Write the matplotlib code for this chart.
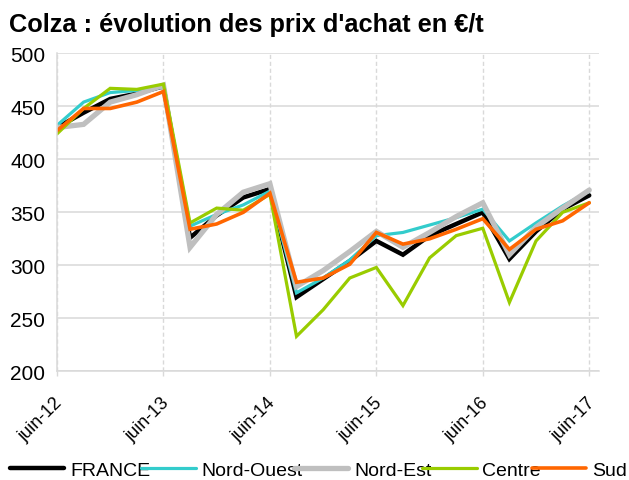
import matplotlib
matplotlib.use('Agg')
import matplotlib.pyplot as plt
import matplotlib.transforms as mtransforms
import numpy as np

plt.rcParams['font.family'] = ['Liberation Sans', 'DejaVu Sans']

# quarterly prices, juin-12 -> juin-17
quarters = ['juin-12', 'sept-12', 'déc-12', 'mars-13', 'juin-13', 'sept-13', 'déc-13', 'mars-14',
            'juin-14', 'sept-14', 'déc-14', 'mars-15', 'juin-15', 'sept-15', 'déc-15', 'mars-16',
            'juin-16', 'sept-16', 'déc-16', 'mars-17', 'juin-17']
france = [430, 444, 457, 462, 469, 326, 347, 364, 372, 270, 287, 304, 323, 310, 328, 339, 350, 306, 332, 353, 366]
nord_ouest = [432, 454, 463, 465, 468, 337, 348, 357, 370, 274, 288, 305, 328, 331, 338, 345, 353, 323, 340, 356, 370]
nord_est = [430, 433, 454, 461, 470, 317, 348, 369, 377, 280, 295, 313, 332, 317, 331, 346, 359, 310, 336, 354, 371]
centre = [424, 448, 467, 466, 471, 340, 354, 352, 367, 233, 258, 288, 298, 262, 307, 328, 335, 265, 323, 350, 359]
sud = [427, 448, 448, 454, 464, 334, 339, 350, 368, 284, 288, 301, 331, 320, 325, 334, 344, 315, 334, 342, 359]

series = [
    ('FRANCE', france, '#000000', 3.2),
    ('Nord-Ouest', nord_ouest, '#33CCCC', 2.3),
    ('Nord-Est', nord_est, '#BFBFBF', 3.8),
    ('Centre', centre, '#99CC00', 2.3),
    ('Sud', sud, '#FF6600', 2.6),
]

x = np.arange(len(quarters))

fig = plt.figure(figsize=(6.29, 4.81), dpi=100)
ax = fig.add_axes([0.0906, 0.226, 0.861, 0.661])

for name, vals, col, lw in series:
    ax.plot(x, vals, color=col, lw=lw, label=name, solid_capstyle='round', solid_joinstyle='miter')

ax.set_ylim(200, 500)
ax.set_yticks(range(200, 501, 50))
ax.set_xlim(0, 20.35)
ax.set_xticks(x[::4])
ax.set_xticklabels(quarters[::4])

ax.grid(axis='y', color='#D9D9D9', lw=1.1, ls='-')
ax.grid(axis='x', color='#D9D9D9', lw=1.0, ls=(0, (3, 2)))
ax.set_axisbelow(True)

for s in ['top', 'right']:
    ax.spines[s].set_visible(False)
for s in ['left', 'bottom']:
    ax.spines[s].set_color('#D9D9D9')
    ax.spines[s].set_linewidth(1.1)

ax.tick_params(axis='y', length=0, pad=8.5, labelsize=15)
ax.tick_params(axis='x', length=3.6, color='#D9D9D9', width=1.0, pad=17, labelsize=13)
shift = mtransforms.ScaledTranslation(3 / 100, 0, fig.dpi_scale_trans)
for lab in ax.get_xticklabels():
    lab.set_rotation(45)
    lab.set_ha('right')
    lab.set_va('center')
    lab.set_rotation_mode('anchor')
    lab.set_transform(lab.get_transform() + shift)

fig.text(9 / 629, 1 - 32 / 481, "Colza : évolution des prix d'achat en €/t",
         fontsize=18.3, fontweight='bold', va='baseline', ha='left')

fig.legend(loc='center left', bbox_to_anchor=(10 / 629, 1 - 471 / 481), ncol=5, frameon=False,
           fontsize=14, handlelength=2.8, handletextpad=0.3, columnspacing=-0.47,
           borderpad=0, borderaxespad=0)

fig.savefig('out.png', dpi=100)
